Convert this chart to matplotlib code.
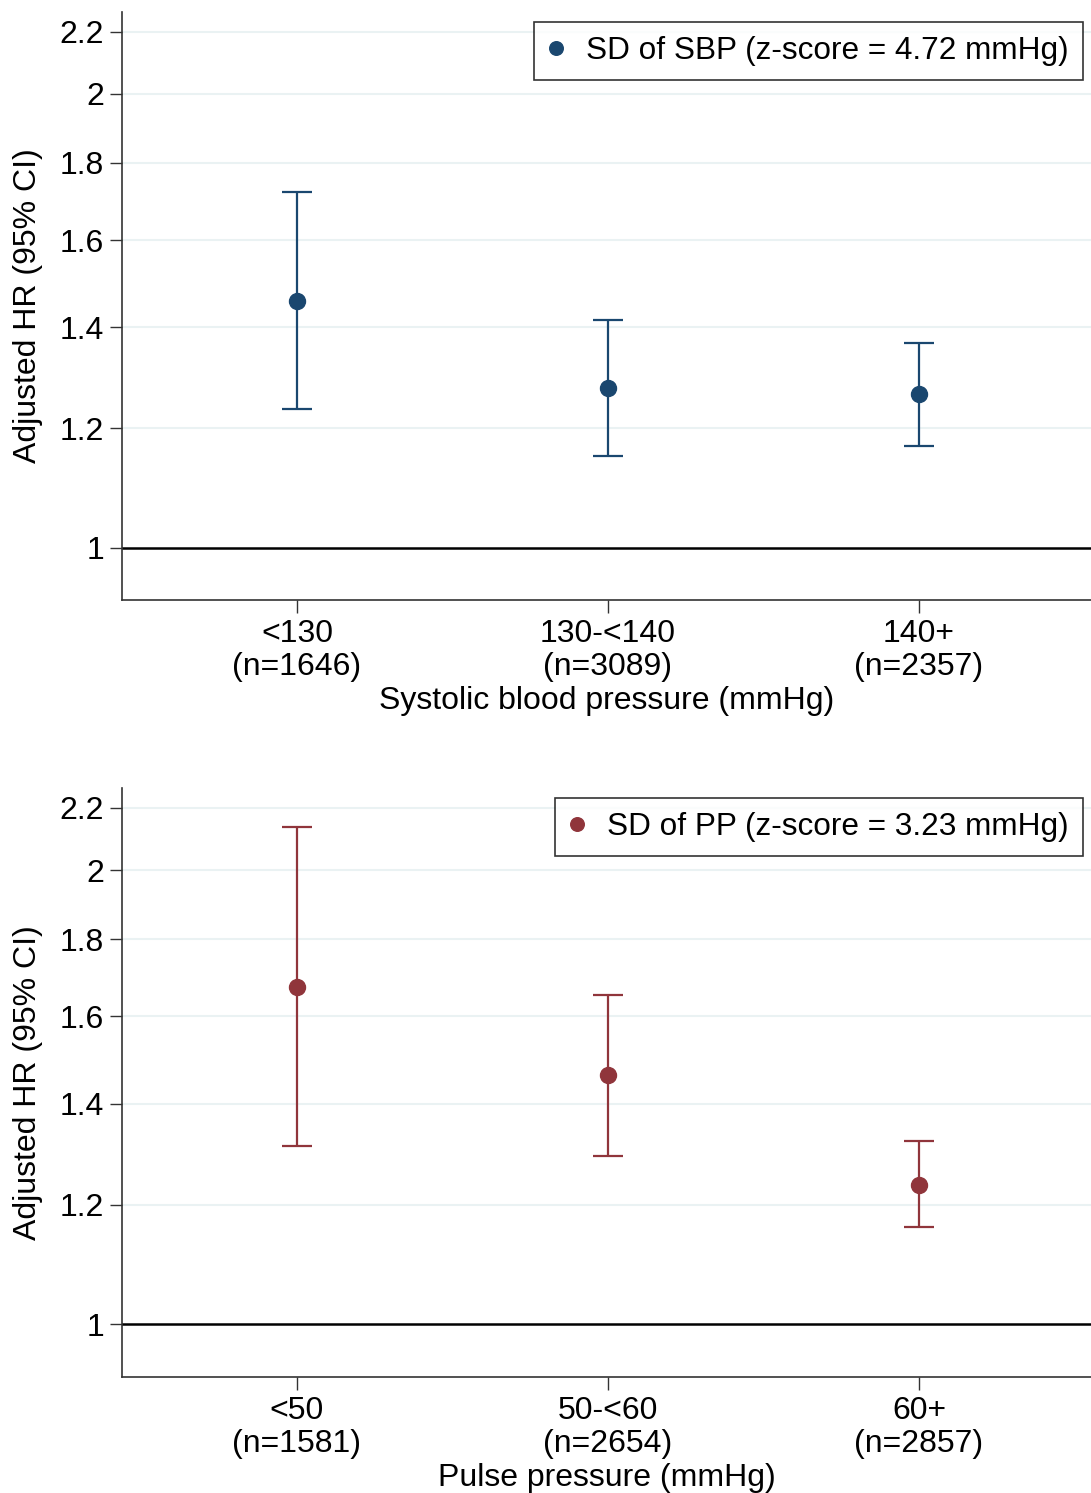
import numpy as np
import matplotlib
matplotlib.use("Agg")
import matplotlib.pyplot as plt
from matplotlib.ticker import FixedLocator, NullLocator, FixedFormatter

plt.rcParams['font.family'] = ['Liberation Sans', 'DejaVu Sans']

# top panel: SD of SBP by systolic BP group
sbp_groups = ["<130\n(n=1646)", "130-<140\n(n=3089)", "140+\n(n=2357)"]
sbp_hr = [1.458, 1.277, 1.265]
sbp_lo = [1.236, 1.151, 1.168]
sbp_hi = [1.722, 1.416, 1.367]

# bottom panel: SD of PP by pulse pressure group
pp_groups = ["<50\n(n=1581)", "50-<60\n(n=2654)", "60+\n(n=2857)"]
pp_hr = [1.673, 1.463, 1.238]
pp_lo = [1.312, 1.294, 1.160]
pp_hi = [2.136, 1.652, 1.324]

yticks = [1, 1.2, 1.4, 1.6, 1.8, 2, 2.2]
ytick_labels = ["1", "1.2", "1.4", "1.6", "1.8", "2", "2.2"]

W, H = 1091, 1493
FS = 23
fig = plt.figure(figsize=(W / 100, H / 100), dpi=100)

def px_axes(left, top, right, bottom):
    return fig.add_axes([left / W, 1 - bottom / H, (right - left) / W, (bottom - top) / H])

def panel(ax, groups, hr, lo, hi, color, label, xlabel):
    x = np.arange(1, len(groups) + 1)
    hr = np.array(hr)
    err = [hr - np.array(lo), np.array(hi) - hr]
    ax.set_yscale('log')
    ax.set_ylim(0.923, 2.267)
    ax.set_xlim(0.4375, 3.553)
    ax.yaxis.set_major_locator(FixedLocator(yticks))
    ax.yaxis.set_major_formatter(FixedFormatter(ytick_labels))
    ax.yaxis.set_minor_locator(NullLocator())
    for t in yticks[1:]:
        ax.axhline(t, color='#eaf2f3', lw=1.5, zorder=0)
    ax.axhline(1, color='black', lw=1.8, zorder=1)
    ax.errorbar(x, hr, yerr=err, fmt='none', ecolor=color, elinewidth=1.6,
                capsize=11, capthick=1.6, zorder=2)
    ax.plot(x, hr, 'o', color=color, ms=11.5, label=label, zorder=3)
    ax.set_xticks(x)
    ax.set_xticklabels(groups, fontsize=FS, linespacing=1.1)
    ax.tick_params(axis='both', labelsize=FS, length=9, width=1, color='#333333')
    ax.tick_params(axis='x', pad=5)
    ax.tick_params(axis='y', pad=4)
    ax.set_xlabel(xlabel, fontsize=FS, labelpad=3)
    ax.set_ylabel("Adjusted HR (95% CI)", fontsize=FS, labelpad=12)
    for s in ['top', 'right']:
        ax.spines[s].set_visible(False)
    for s in ['left', 'bottom']:
        ax.spines[s].set_color('#333333')
        ax.spines[s].set_linewidth(1.2)
    leg = ax.legend(loc='upper right', bbox_to_anchor=(0.992, 0.983), fontsize=FS - 0.3,
                    frameon=True, fancybox=False, edgecolor='black', handletextpad=0.75,
                    borderpad=0.45, borderaxespad=0, handlelength=0.45, markerscale=0.85)
    leg.get_frame().set_linewidth(1.2)

ax1 = px_axes(122, 12, 1091, 600)
panel(ax1, sbp_groups, sbp_hr, sbp_lo, sbp_hi, '#1a476f',
      'SD of SBP (z-score = 4.72 mmHg)', 'Systolic blood pressure (mmHg)')

ax2 = px_axes(122, 788, 1091, 1377)
panel(ax2, pp_groups, pp_hr, pp_lo, pp_hi, '#90353b',
      'SD of PP (z-score = 3.23 mmHg)', 'Pulse pressure (mmHg)')

fig.savefig("out.png", dpi=100)
